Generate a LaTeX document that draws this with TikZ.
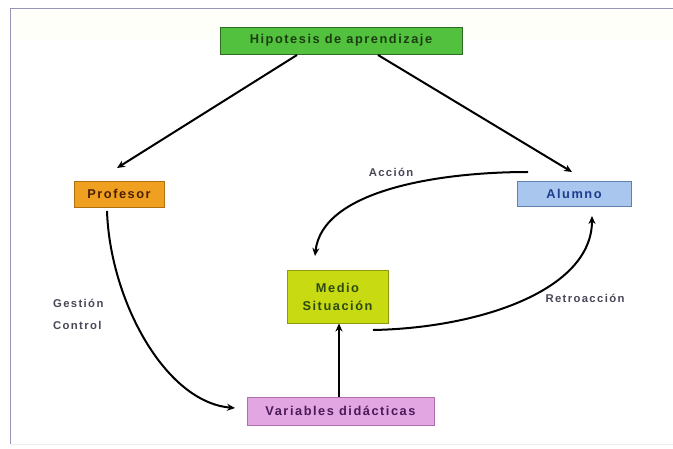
\documentclass[tikz,border=0pt]{standalone}
\usepackage{fontspec}
\setmainfont{Liberation Sans}[LetterSpace=12]
\usetikzlibrary{arrows.meta}
\definecolor{hipfill}{HTML}{52C23E}
\definecolor{hipdraw}{HTML}{2F6B24}
\definecolor{hiptext}{HTML}{1B3D10}
\definecolor{proffill}{HTML}{F0A020}
\definecolor{profdraw}{HTML}{B07010}
\definecolor{proftext}{HTML}{4A2000}
\definecolor{alumfill}{HTML}{A9C7EE}
\definecolor{alumdraw}{HTML}{6080B0}
\definecolor{alumtext}{HTML}{1E3C8C}
\definecolor{medfill}{HTML}{C7DA12}
\definecolor{meddraw}{HTML}{8C9A10}
\definecolor{medtext}{HTML}{2C4A10}
\definecolor{varfill}{HTML}{E2A6E2}
\definecolor{vardraw}{HTML}{B070B0}
\definecolor{vartext}{HTML}{4A1A5A}
\definecolor{labtext}{HTML}{484858}
\definecolor{frameline}{HTML}{9494B4}
\begin{document}
\begin{tikzpicture}[x=1pt,y=-1pt,
  box/.style={rectangle, draw, line width=0.9pt, inner sep=0pt, font=\fontsize{12.8}{14}\selectfont\bfseries, align=center},
  lab/.style={font=\fontsize{11.3}{14}\selectfont\bfseries, text=labtext, align=left, inner sep=0pt},
  conn/.style={line width=2pt, -{Stealth[length=8pt,width=7pt]}}
]
\useasboundingbox (0,0) rectangle (673,449);
\fill[white] (0,0) rectangle (673,449);
\fill[yellow!2] (11,10) rectangle (673,40);
\draw[frameline, line width=1.5pt] (10.5,444) -- (10.5,8.5) -- (673,8.5);
\draw[gray!15, line width=0.8pt] (11,444) -- (673,444);

\node[box, fill=hipfill, draw=hipdraw, text=hiptext, minimum width=242pt, minimum height=27pt] (hip) at (341,40.5) {Hipotesis de aprendizaje};
\node[box, fill=proffill, draw=profdraw, text=proftext, minimum width=90pt, minimum height=26pt] (prof) at (119,194) {Profesor};
\node[box, fill=alumfill, draw=alumdraw, text=alumtext, minimum width=114pt, minimum height=25pt] (alum) at (574,193.5) {Alumno};
\node[box, fill=medfill, draw=meddraw, text=medtext, minimum width=101pt, minimum height=53pt] (medio) at (337.5,296.5) {Medio\\[4pt]Situación};
\node[box, fill=varfill, draw=vardraw, text=vartext, minimum width=187pt, minimum height=28pt] (var) at (340.5,411) {Variables didácticas};

\node[lab] (lacc) at (391,172) {Acción};
\node[lab] (lret) at (585,298) {Retroacción};
\node[lab, anchor=west] (lges) at (53,303) {Gestión};
\node[lab, anchor=west] (lcon) at (53,325) {Control};

\coordinate (h1) at (297,55);
\coordinate (h2) at (378,55);
\coordinate (p1) at (117,168);
\coordinate (a1) at (572,172);
\coordinate (accs) at (528,172);
\coordinate (acce) at (315,256);
\coordinate (rets) at (373,330);
\coordinate (rete) at (592,216);
\coordinate (pros) at (107,211);
\coordinate (proe) at (235,408);
\coordinate (vtop) at (339,397);
\coordinate (mbot) at (339,323);

\draw[conn] (h1) -- (p1);
\draw[conn] (h2) -- (a1);
\draw[conn] (accs) .. controls (440,172) and (322,190) .. (acce);
\draw[conn] (rets) .. controls (480,328) and (592,290) .. (rete);
\draw[conn] (pros) .. controls (110,300) and (165,402) .. (proe);
\draw[conn] (var.north -| vtop) -- (medio.south -| mbot);
\end{tikzpicture}
\end{document}
